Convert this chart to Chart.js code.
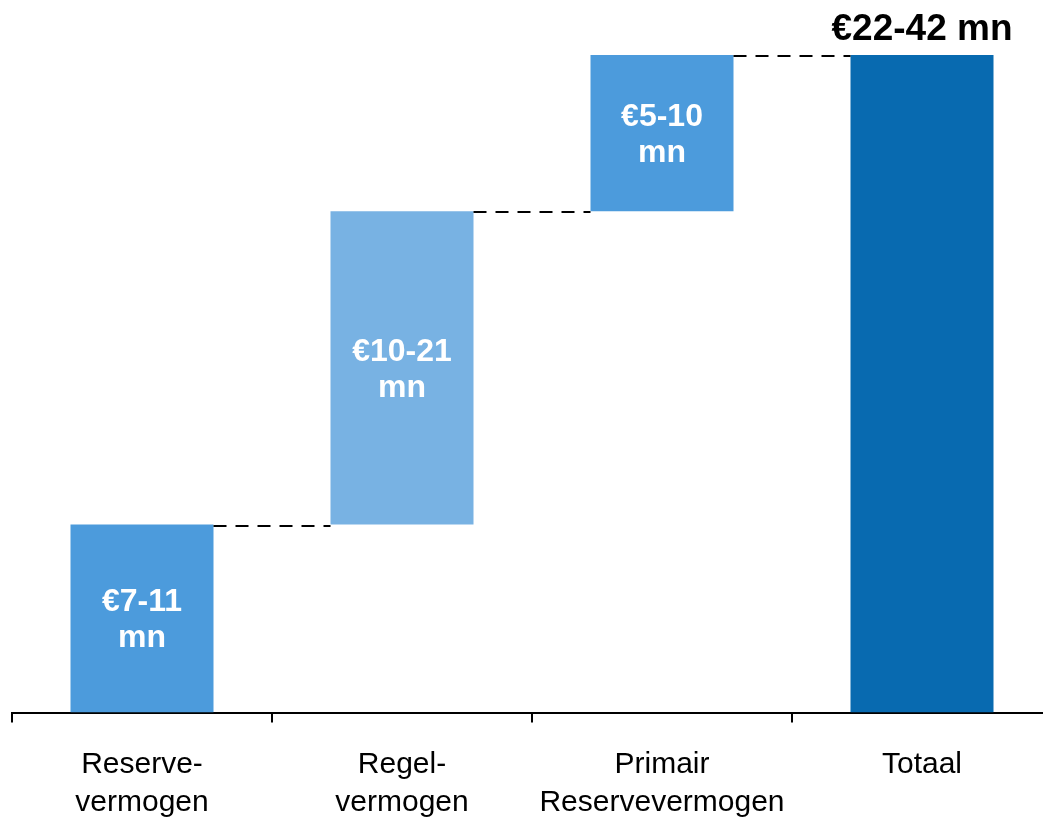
<!DOCTYPE html>
<html>
<head>
<meta charset="utf-8">
<script src="https://cdn.jsdelivr.net/npm/chart.js@4"></script>
<style>
  html, body { margin: 0; padding: 0; background: #fff; overflow: hidden; }
  #wrap { width: 1043px; height: 818px; overflow: hidden; }
</style>
</head>
<body>
<div id="wrap"><canvas id="chart" width="1056" height="818"></canvas></div>
<script>
// Waterfall data (values in € mn, roughly the mid-points of the ranges)
const categories = [['Reserve-', 'vermogen'], ['Regel-', 'vermogen'], ['Primair', 'Reservevermogen'], ['Totaal']];
const barStart = [0, 9.15, 24.4, 0];
const barEnd = [9.15, 24.4, 32, 32];
const barLabels = [['€7-11', 'mn'], ['€10-21', 'mn'], ['€5-10', 'mn'], ['€22-42 mn']];
const barColors = ['#4c9bdc', '#78b2e3', '#4c9bdc', '#086ab0'];

const FONT = '"Liberation Sans", Arial, Helvetica, sans-serif';

// dashed connectors between the steps
const connectorPlugin = {
  id: 'connectors',
  afterDatasetsDraw(chart) {
    const ctx = chart.ctx;
    const meta = chart.getDatasetMeta(0);
    const y = chart.scales.y;
    ctx.save();
    ctx.strokeStyle = '#000';
    ctx.lineWidth = 2;
    ctx.setLineDash([13, 9]);
    for (let i = 0; i < meta.data.length - 1; i++) {
      const a = meta.data[i], b = meta.data[i + 1];
      const py = Math.round(y.getPixelForValue(barEnd[i])) + 1;
      ctx.beginPath();
      ctx.moveTo(a.x + a.width / 2, py);
      ctx.lineTo(b.x - b.width / 2, py);
      ctx.stroke();
    }
    ctx.restore();
  }
};

// text labels inside / above the bars
const labelPlugin = {
  id: 'barText',
  afterDatasetsDraw(chart) {
    const ctx = chart.ctx;
    const meta = chart.getDatasetMeta(0);
    const y = chart.scales.y;
    ctx.save();
    ctx.textAlign = 'center';
    ctx.textBaseline = 'middle';
    meta.data.forEach((bar, i) => {
      const lines = barLabels[i];
      if (i === meta.data.length - 1) {
        ctx.fillStyle = '#000';
        ctx.font = 'bold 37px ' + FONT;
        ctx.fillText(lines[0], bar.x, y.getPixelForValue(barEnd[i]) - 25);
      } else {
        ctx.fillStyle = '#fff';
        ctx.font = 'bold 32px ' + FONT;
        const mid = (y.getPixelForValue(barStart[i]) + y.getPixelForValue(barEnd[i])) / 2 + 2;
        const lh = 36;
        lines.forEach((t, k) => {
          ctx.fillText(t, bar.x, mid + (k - (lines.length - 1) / 2) * lh);
        });
      }
    });
    ctx.restore();
  }
};

new Chart(document.getElementById('chart'), {
  type: 'bar',
  data: {
    labels: categories,
    datasets: [{
      data: barStart.map((s, i) => [s, barEnd[i]]),
      backgroundColor: barColors,
      borderWidth: 0,
      barPercentage: 0.55,
      categoryPercentage: 1.0
    }]
  },
  options: {
    responsive: false,
    animation: false,
    layout: { padding: { left: 12, right: 4, top: 14, bottom: -27 } },
    plugins: { legend: { display: false }, tooltip: { enabled: false } },
    scales: {
      x: {
        grid: {
          offset: true,
          drawOnChartArea: false,
          drawTicks: true,
          tickLength: 10,
          color: '#000',
          lineWidth: 2
        },
        border: { display: true, color: '#000', width: 2 },
        ticks: {
          color: '#000',
          padding: 24,
          maxRotation: 0,
          font: { family: FONT, size: 30, lineHeight: 1.24 }
        }
      },
      y: {
        display: false,
        min: 0,
        max: 34
      }
    }
  },
  plugins: [connectorPlugin, labelPlugin]
});
</script>
</body>
</html>
